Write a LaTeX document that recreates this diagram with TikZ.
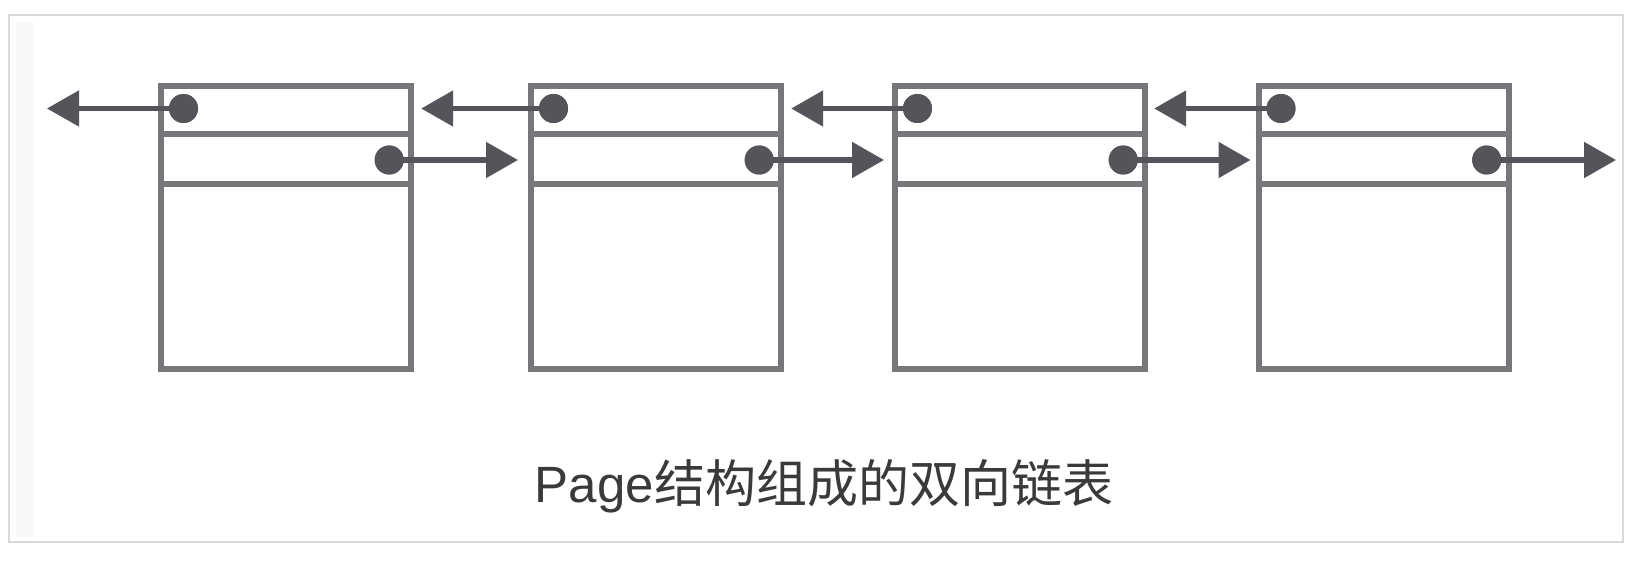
\documentclass[tikz,border=0pt]{standalone}
\usepackage{fontspec}
\setmainfont{Liberation Sans}
\newfontfamily\cjk{Noto Sans CJK SC}
\usetikzlibrary{arrows.meta,calc}
\definecolor{boxgray}{HTML}{76777B}
\definecolor{ptrgray}{HTML}{53555A}
\definecolor{framegray}{HTML}{D8D8D8}
\definecolor{stripgray}{HTML}{F8F8F8}
\definecolor{txtgray}{HTML}{3A3A3A}
\begin{document}
\begin{tikzpicture}[x=1pt,y=-1pt,
  pagebox/.style={draw=boxgray, line width=6.2pt, minimum width=250pt, minimum height=283pt, inner sep=0pt, anchor=north west},
  ptrdot/.style={circle, fill=ptrgray, minimum size=29pt, inner sep=0pt},
  ptr/.style={draw=ptrgray, line width=5.2pt, -{Triangle[length=32pt,width=35pt]}},
  divider/.style={draw=boxgray, line width=6.2pt},
  caption/.style={text=txtgray, font=\fontsize{51}{60}\selectfont, anchor=base, inner sep=0pt}]
\useasboundingbox (0,0) rectangle (1648,580);
\fill[white] (0,0) rectangle (1648,580);
% outer frame and faint strip
\fill[stripgray] (16,22) rectangle (34,537);
\draw[framegray, line width=2pt] (8.5,15) rectangle (1623,542);
% pages
\foreach \i/\x in {1/158, 2/528, 3/892, 4/1255.5} {
  \node[pagebox] (p\i) at (\x,83) {};
  \draw[divider] ([yshift=-51pt]p\i.north west) -- ([yshift=-51pt]p\i.north east);
  \draw[divider] ([yshift=-101pt]p\i.north west) -- ([yshift=-101pt]p\i.north east);
  \node[ptrdot] (t\i) at ([xshift=25.5pt,yshift=-25.5pt]p\i.north west) {};
  \node[ptrdot] (b\i) at ([xshift=-25pt,yshift=-77pt]p\i.north east) {};
}
% free ends
\coordinate (lend) at (47,108.5);
\coordinate (rend) at (1616,160);
% prev pointers
\draw[ptr] (t1.center) -- (lend);
\draw[ptr] (t2.center) -- ($(t2.center -| p1.east)+(7,0)$);
\draw[ptr] (t3.center) -- ($(t3.center -| p2.east)+(7,0)$);
\draw[ptr] (t4.center) -- ($(t4.center -| p3.east)+(6,0)$);
% next pointers
\draw[ptr] (b1.center) -- ($(b1.center -| p2.west)+(-10,0)$);
\draw[ptr] (b2.center) -- ($(b2.center -| p3.west)+(-8,0)$);
\draw[ptr] (b3.center) -- ($(b3.center -| p4.west)+(-5,0)$);
\draw[ptr] (b4.center) -- (rend);
% redraw dots on top
\foreach \i in {1,2,3,4} {
  \fill[ptrgray] (t\i.center) circle (14.5);
  \fill[ptrgray] (b\i.center) circle (14.5);
}
\node[caption] (cap) at (824,502) {Page{\cjk 结构组成的双向链表}};
\end{tikzpicture}
\end{document}
